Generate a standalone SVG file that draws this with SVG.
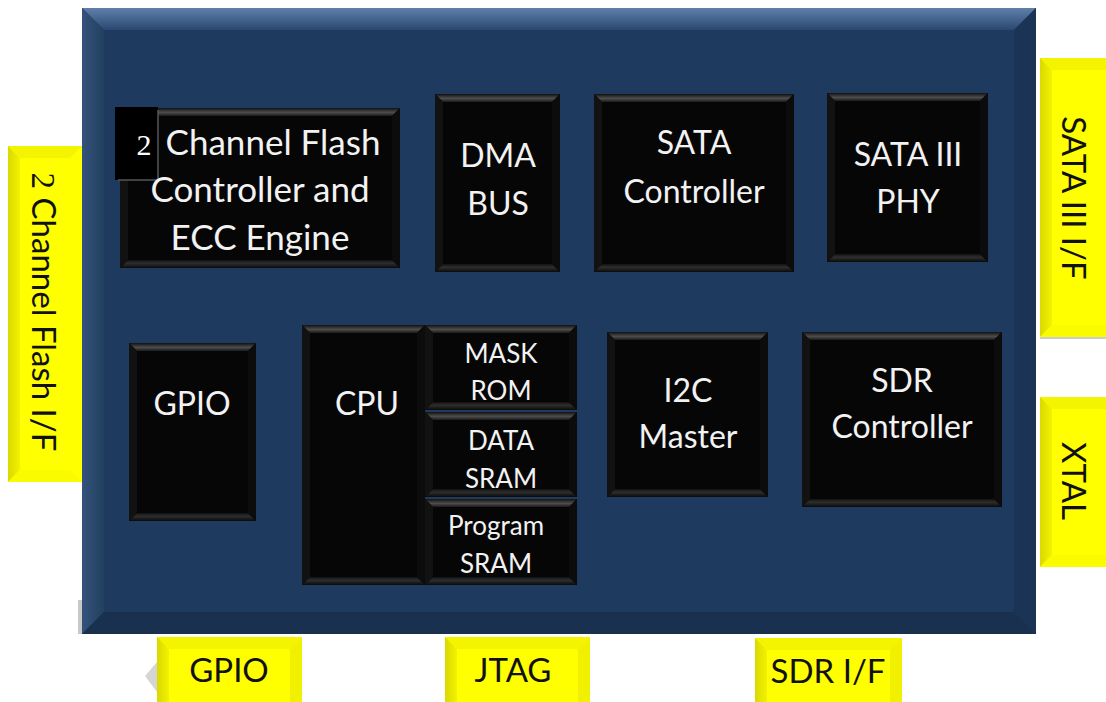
<svg xmlns="http://www.w3.org/2000/svg" width="1106" height="702" viewBox="0 0 1106 702">
<defs>
<linearGradient id="gMainTop" x1="0" y1="0" x2="0" y2="1"><stop offset="0" stop-color="#5f80ab"/><stop offset="1" stop-color="#2a4770"/></linearGradient>
<linearGradient id="gMainL" x1="0" y1="0" x2="1" y2="0"><stop offset="0" stop-color="#35527c"/><stop offset="1" stop-color="#22405f"/></linearGradient>
<linearGradient id="gBlkTop" x1="0" y1="0" x2="0" y2="1"><stop offset="0" stop-color="#111"/><stop offset="0.55" stop-color="#4d4d4d"/><stop offset="1" stop-color="#1a1a1a"/></linearGradient>
<linearGradient id="gBlkBot" x1="0" y1="1" x2="0" y2="0"><stop offset="0" stop-color="#0a0a0a"/><stop offset="0.6" stop-color="#2e2e2e"/><stop offset="1" stop-color="#111"/></linearGradient>
<linearGradient id="gYelL" x1="0" y1="0" x2="1" y2="0"><stop offset="0" stop-color="#d9d900"/><stop offset="1" stop-color="#f2f200"/></linearGradient>
</defs>
<style>
.main{fill:#1f3a5f}
.mt{fill:url(#gMainTop)}
.ml{fill:url(#gMainL)}
.mr{fill:#1b3455}
.mb{fill:#19314f}
.nb{fill:#060606}
.bt{fill:url(#gBlkTop)}
.bb{fill:url(#gBlkBot)}
.bl{fill:#121212}
.br{fill:#0c0c0c}
.yb{fill:#ffff00}
.yt{fill:#f4f400}
.yl{fill:url(#gYelL)}
.yr{fill:#f0f000}
.ybt{fill:#fbfb00}
.wt{font-family:Lato,"Open Sans","Liberation Sans",sans-serif;fill:#f2f2f2;text-anchor:middle;font-size:32px}
.st{font-size:26px}
.ft{font-size:35px}
.kt{font-family:Lato,"Open Sans","Liberation Sans",sans-serif;fill:#111;text-anchor:middle;font-size:33px}
.sr{font-family:"Liberation Serif",serif}
</style>

<g id="chip">
<polygon points="78,600 82,600 82,634 78,634" fill="#c8c8c8"/>
<rect class="main" x="82" y="8" width="954" height="626"/>
<polygon class="mt" points="82,8 1036,8 1014,30 104,30"/>
<polygon class="ml" points="82,8 104,30 104,612 82,634"/>
<polygon class="mr" points="1036,8 1014,30 1014,612 1036,634"/>
<polygon class="mb" points="82,634 104,612 1014,612 1036,634"/>
</g>

<g id="connectors"></g>

<g id="flash-ctrl">
<rect class="nb" x="120" y="108" width="280" height="160"/>
<polygon class="bt" points="120,108 400,108 392,116 128,116"/>
<polygon class="bb" points="120,268 400,268 392,260 128,260"/>
<polygon class="bl" points="120,108 128,116 128,260 120,268"/>
<polygon class="br" points="400,108 392,116 392,260 400,268"/>
<rect x="115" y="107" width="43" height="73" fill="#000"/>
<polyline points="158,110 158,180 118,180" fill="none" stroke="#555" stroke-width="1.5"/>
<text class="sr" x="144" y="155" fill="#fff" font-size="30" text-anchor="middle">2</text>
<text class="wt ft" x="273" y="155">Channel Flash</text>
<text class="wt ft" x="260" y="202">Controller and</text>
<text class="wt ft" x="260" y="250">ECC Engine</text>
</g>

<g id="dma-bus">
<rect class="nb" x="435" y="94" width="125" height="178"/>
<polygon class="bt" points="435,94 560,94 552,102 443,102"/>
<polygon class="bb" points="435,272 560,272 552,264 443,264"/>
<polygon class="bl" points="435,94 443,102 443,264 435,272"/>
<polygon class="br" points="560,94 552,102 552,264 560,272"/>
<text class="wt" x="498" y="167">DMA</text>
<text class="wt" x="498" y="215">BUS</text>
</g>

<g id="sata-ctrl">
<rect class="nb" x="594" y="94" width="200" height="178"/>
<polygon class="bt" points="594,94 794,94 786,102 602,102"/>
<polygon class="bb" points="594,272 794,272 786,264 602,264"/>
<polygon class="bl" points="594,94 602,102 602,264 594,272"/>
<polygon class="br" points="794,94 786,102 786,264 794,272"/>
<text class="wt" x="694" y="154">SATA</text>
<text class="wt" x="694" y="203">Controller</text>
</g>

<g id="sata-phy">
<rect class="nb" x="827" y="93" width="161" height="169"/>
<polygon class="bt" points="827,93 988,93 980,101 835,101"/>
<polygon class="bb" points="827,262 988,262 980,254 835,254"/>
<polygon class="bl" points="827,93 835,101 835,254 827,262"/>
<polygon class="br" points="988,93 980,101 980,254 988,262"/>
<text class="wt" x="908" y="166">SATA III</text>
<text class="wt" x="908" y="213">PHY</text>
</g>

<g id="gpio">
<rect class="nb" x="129" y="343" width="127" height="178"/>
<polygon class="bt" points="129,343 256,343 248,351 137,351"/>
<polygon class="bb" points="129,521 256,521 248,513 137,513"/>
<polygon class="bl" points="129,343 137,351 137,513 129,521"/>
<polygon class="br" points="256,343 248,351 248,513 256,521"/>
<text class="wt" x="192" y="415">GPIO</text>
</g>

<g id="cpu">
<rect class="nb" x="302" y="325" width="123" height="260"/>
<polygon class="bt" points="302,325 425,325 417,333 310,333"/>
<polygon class="bb" points="302,585 425,585 417,577 310,577"/>
<polygon class="bl" points="302,325 310,333 310,577 302,585"/>
<polygon class="br" points="425,325 417,333 417,577 425,585"/>
<text class="wt" x="367" y="415">CPU</text>
</g>

<g id="mask-rom">
<rect class="nb" x="425" y="325" width="152" height="85"/>
<polygon class="bt" points="425,325 577,325 569,333 433,333"/>
<polygon class="bb" points="425,410 577,410 569,402 433,402"/>
<polygon class="bl" points="425,325 433,333 433,402 425,410"/>
<polygon class="br" points="577,325 569,333 569,402 577,410"/>
<text class="wt st" x="501" y="363">MASK</text>
<text class="wt st" x="501" y="400">ROM</text>
</g>

<g id="data-sram">
<rect class="nb" x="425" y="412" width="152" height="85"/>
<polygon class="bt" points="425,412 577,412 569,420 433,420"/>
<polygon class="bb" points="425,497 577,497 569,489 433,489"/>
<polygon class="bl" points="425,412 433,420 433,489 425,497"/>
<polygon class="br" points="577,412 569,420 569,489 577,497"/>
<text class="wt st" x="501" y="450">DATA</text>
<text class="wt st" x="501" y="488">SRAM</text>
</g>

<g id="program-sram">
<rect class="nb" x="425" y="499" width="152" height="86"/>
<polygon class="bt" points="425,499 577,499 569,507 433,507"/>
<polygon class="bb" points="425,585 577,585 569,577 433,577"/>
<polygon class="bl" points="425,499 433,507 433,577 425,585"/>
<polygon class="br" points="577,499 569,507 569,577 577,585"/>
<text class="wt st" x="496" y="535">Program</text>
<text class="wt st" x="496" y="573">SRAM</text>
</g>

<g id="i2c-master">
<rect class="nb" x="607" y="332" width="161" height="165"/>
<polygon class="bt" points="607,332 768,332 760,340 615,340"/>
<polygon class="bb" points="607,497 768,497 760,489 615,489"/>
<polygon class="bl" points="607,332 615,340 615,489 607,497"/>
<polygon class="br" points="768,332 760,340 760,489 768,497"/>
<text class="wt" x="688" y="402">I2C</text>
<text class="wt" x="688" y="448">Master</text>
</g>

<g id="sdr-ctrl">
<rect class="nb" x="802" y="332" width="200" height="175"/>
<polygon class="bt" points="802,332 1002,332 994,340 810,340"/>
<polygon class="bb" points="802,507 1002,507 994,499 810,499"/>
<polygon class="bl" points="802,332 810,340 810,499 802,507"/>
<polygon class="br" points="1002,332 994,340 994,499 1002,507"/>
<text class="wt" x="902" y="392">SDR</text>
<text class="wt" x="902" y="438">Controller</text>
</g>

<g id="flash-if">
<rect class="yb" x="8" y="146" width="74" height="336"/>
<polygon class="yt" points="8,146 82,146 70,158 20,158"/>
<polygon class="yl" points="8,146 20,158 20,470 8,482"/>
<polygon class="ybt" points="8,482 82,482 70,470 20,470"/>
<rect x="20" y="158" width="50" height="36" fill="#ffff00"/>
<text class="kt" transform="translate(32,312) rotate(90)" font-size="37"><tspan class="sr">2</tspan> Channel Flash I/F</text>
</g>

<g id="sata-if">
<rect class="yb" x="1040" y="58" width="66" height="279"/>
<polygon class="yt" points="1040,58 1106,58 1106,70 1052,70"/>
<polygon class="yl" points="1040,58 1052,70 1052,325 1040,337"/>
<polygon class="ybt" points="1040,337 1106,337 1106,325 1052,325"/>
<line x1="1040" y1="338" x2="1106" y2="338" stroke="#bbb" stroke-width="1.5"/>
<text class="kt" transform="translate(1062,198) rotate(90)">SATA III I/F</text>
</g>

<g id="xtal">
<rect class="yb" x="1040" y="397" width="66" height="170"/>
<polygon class="yt" points="1040,397 1106,397 1106,409 1052,409"/>
<polygon class="yl" points="1040,397 1052,409 1052,555 1040,567"/>
<polygon class="ybt" points="1040,567 1106,567 1106,555 1052,555"/>
<text class="kt" transform="translate(1062,481) rotate(90)">XTAL</text>
</g>

<g id="gpio-pin">
<polygon points="157,662 145,676 157,692" fill="#d5d5d5"/>
<rect class="yb" x="157" y="637" width="145" height="65"/>
<polygon class="yt" points="157,637 302,637 290,649 169,649"/>
<polygon class="yl" points="157,637 169,649 169,702 157,702"/>
<polygon class="yr" points="302,637 290,649 290,702 302,702"/>
<text class="kt" x="229" y="682">GPIO</text>
</g>

<g id="jtag">
<rect class="yb" x="445" y="637" width="145" height="65"/>
<polygon class="yt" points="445,637 590,637 578,649 457,649"/>
<polygon class="yl" points="445,637 457,649 457,702 445,702"/>
<polygon class="yr" points="590,637 578,649 578,702 590,702"/>
<text class="kt" x="513" y="682">JTAG</text>
</g>

<g id="sdr-if">
<rect class="yb" x="755" y="638" width="147" height="64"/>
<polygon class="yt" points="755,638 902,638 890,650 767,650"/>
<polygon class="yl" points="755,638 767,650 767,702 755,702"/>
<polygon class="yr" points="902,638 890,650 890,702 902,702"/>
<text class="kt" x="828" y="683">SDR I/F</text>
</g>
</svg>
